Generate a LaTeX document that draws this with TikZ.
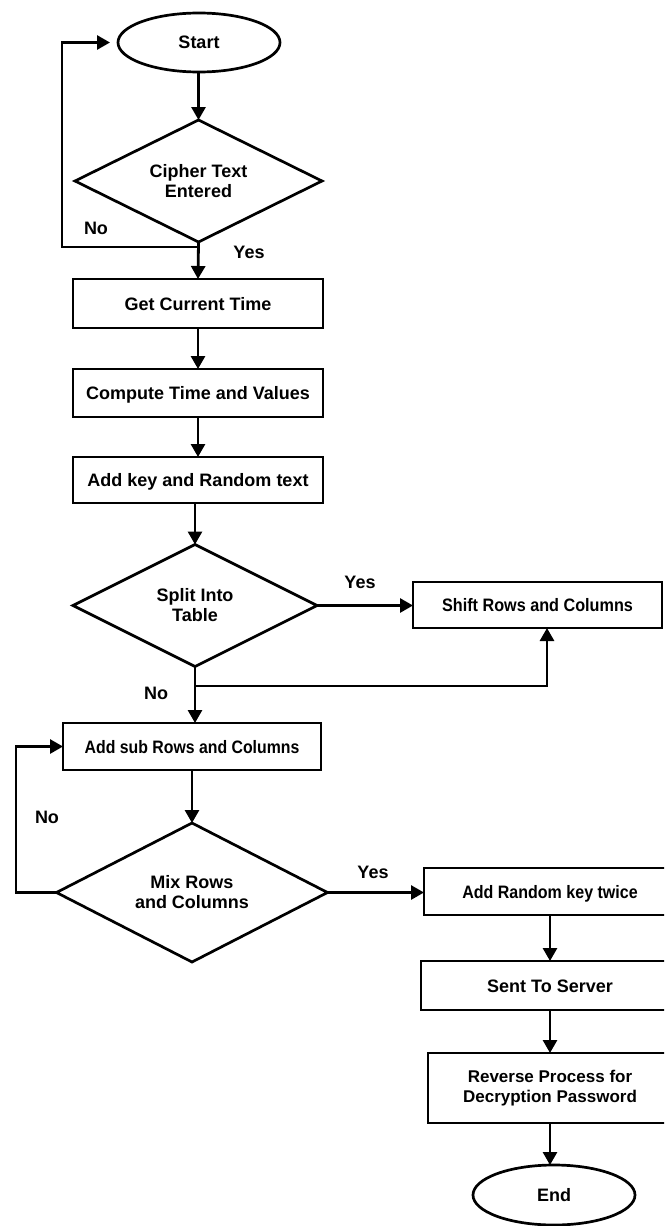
\documentclass[tikz,border=0pt]{standalone}
\usepackage{fontspec}
\usepackage{graphicx}
\setmainfont{Liberation Sans}
\usetikzlibrary{shapes.geometric,arrows.meta}

\begin{document}
\begin{tikzpicture}[x=1pt,y=-1pt,
  every node/.style={font=\fontsize{18}{20}\selectfont\bfseries, text=black},
  flow/.style={line width=2.8pt, -{Triangle[length=13pt,width=14pt]}},
  procbox/.style={draw, rectangle, line width=2.7pt, inner sep=0pt, outer sep=0pt, align=center},
  onerow/.style={text height=13pt, text depth=0pt},
  decision/.style={draw, diamond, aspect=2, line width=2.7pt, inner sep=0pt, outer sep=0pt, align=center},
  terminal/.style={draw, ellipse, line width=2.7pt, inner sep=0pt, outer sep=0pt, minimum width=162pt, minimum height=59pt},
  lbl/.style={inner sep=0pt, text height=13pt, text depth=0pt}
]
\fill[white] (0,0) rectangle (664,1226);
\path[use as bounding box] (0,0) rectangle (664,1226);
\clip (0,0) rectangle (664,1226);

% main column
\node[terminal] (start) at (199,42.5) {Start};
\node[decision, minimum width=247pt, minimum height=122pt] (cipher) at (198.5,181) {Cipher Text\\Entered};
\node[procbox, onerow, minimum width=250pt, minimum height=49pt] (gct) at (198,303.5) {Get Current Time};
\node[procbox, onerow, minimum width=250pt, minimum height=48pt] (ctv) at (198,393) {Compute Time and Values};
\node[procbox, onerow, minimum width=250pt, minimum height=46pt] (akr) at (198,480) {Add key and Random text};
\node[decision, minimum width=244pt, minimum height=122pt] (split) at (195,605.5) {Split Into\\Table};
\node[procbox, onerow, minimum width=249pt, minimum height=46pt] (shift) at (537.5,605) {\scalebox{0.9}[1]{Shift Rows and Columns}};
\node[procbox, onerow, minimum width=258pt, minimum height=47pt] (addsub) at (192,746.5) {\scalebox{0.88}[1]{Add sub Rows and Columns}};
\node[decision, minimum width=271pt, minimum height=139pt] (mix) at (192,892.5) {Mix Rows\\and Columns};

% right column
\node[procbox, onerow, minimum width=252pt, minimum height=47pt] (addrand) at (550,891.5) {\scalebox{0.89}[1]{Add Random key twice}};
\node[procbox, onerow, minimum width=258pt, minimum height=49pt] (sent) at (550,985.5) {Sent To Server};
\node[procbox, minimum width=244pt, minimum height=70pt, font=\fontsize{17}{20}\selectfont\bfseries] (reverse) at (550,1088) {Reverse Process for\\Decryption Password};
\node[terminal, minimum height=60pt] (end) at (554,1195) {End};

% branch labels
\node[lbl] (no1) at (96,228) {No};
\node[lbl] (yes1) at (249,252) {Yes};
\node[lbl] (yes2) at (360,582) {Yes};
\node[lbl] (no2) at (156,693) {No};
\node[lbl] (no3) at (47,817) {No};
\node[lbl] (yes3) at (373,872) {Yes};

% turning points of the loops
\coordinate (retry) at (62,247);
\coordinate (bypass) at (547,686);
\coordinate (remix) at (16,892.5);

% connectors
\draw[flow] (start.south -| cipher.north) -- (cipher.north);
\draw[flow] (cipher.south) -- (gct.north);
\draw[flow, shorten >=8pt] (cipher.south |- retry) -- (retry) |- (start.west);
\draw[flow] (gct) -- (ctv);
\draw[flow] (ctv) -- (akr);
\draw[flow] (split.north |- akr.south) -- (split.north);
\draw[flow] (split.east) -- (split.east -| shift.west);
\draw[flow] (split.south) -- (split.south |- addsub.north);
\draw[flow] (split.south |- bypass) -- (bypass) -- (bypass |- shift.south);
\draw[flow] (addsub.south) -- (mix.north);
\draw[flow] (mix.west) -- (remix) |- (addsub.west);
\draw[flow] (mix.east) -- (mix.east -| addrand.west);
\draw[flow] (addrand) -- (sent);
\draw[flow] (sent) -- (reverse);
\draw[flow] (reverse.south) -- (reverse.south |- end.north);
\end{tikzpicture}
\end{document}
